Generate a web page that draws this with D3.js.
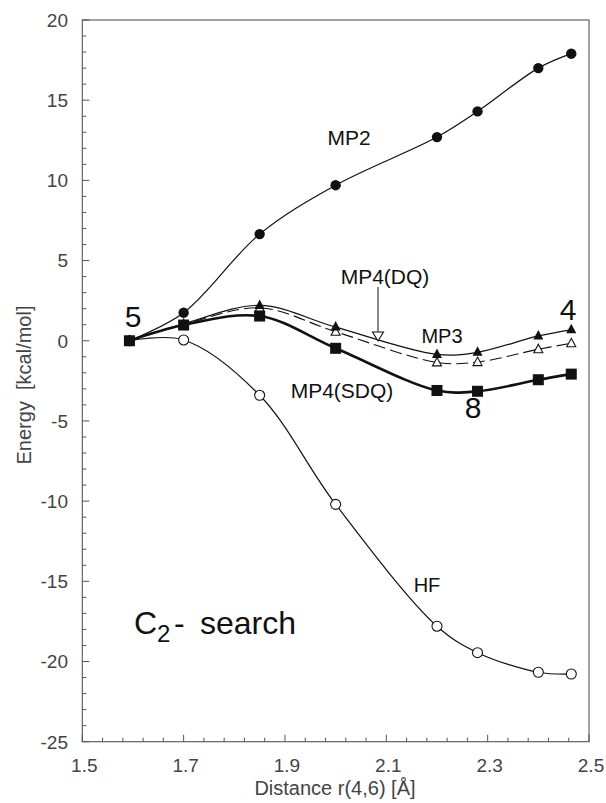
<!DOCTYPE html>
<html><head><meta charset="utf-8">
<script src="https://cdn.jsdelivr.net/npm/d3@7"></script>
<style>body{margin:0;background:#fff}svg{display:block}</style>
</head><body>
<svg id="c" width="606" height="803"></svg>
<script>
const distances = [1.593, 1.70, 1.85, 2.00, 2.20, 2.28, 2.40, 2.465];
const mp2     = [0, 1.75, 6.65, 9.7, 12.7, 14.3, 17.0, 17.9];
const mp3     = [0, 1.05, 2.2, 0.85, -0.85, -0.72, 0.3, 0.68];
const mp4dq   = [0, 1.0, 2.05, 0.56, -1.35, -1.33, -0.53, -0.16];
const mp4sdq  = [0, 0.98, 1.54, -0.47, -3.1, -3.15, -2.43, -2.08];
const hf      = [0, 0.05, -3.4, -10.2, -17.8, -19.45, -20.67, -20.78];
const xTicks = [1.5, 1.7, 1.9, 2.1, 2.3, 2.5];
const yTicks = [-25, -20, -15, -10, -5, 0, 5, 10, 15, 20];

const svg = d3.select("#c");
const x = d3.scaleLinear().domain([1.5, 2.5]).range([82.3, 589]);
const y = d3.scaleLinear().domain([-25, 20]).range([741.7, 20]);
const font = "'Liberation Sans', Arial, sans-serif";
const axisCol = "#555";

// frame
svg.append("rect").attr("x", x(1.5)).attr("y", y(20))
  .attr("width", x(2.5) - x(1.5)).attr("height", y(-25) - y(20))
  .attr("fill", "none").attr("stroke", axisCol).attr("stroke-width", 1.1);

// y axis ticks (inward)
const yMinor = d3.range(-25, 20.01, 1);
svg.append("g").selectAll("line").data(yMinor).join("line")
  .attr("x1", x(1.5)).attr("x2", d => x(1.5) + (d % 5 === 0 ? 7 : 4))
  .attr("y1", d => y(d)).attr("y2", d => y(d))
  .attr("stroke", axisCol).attr("stroke-width", 1);
svg.append("g").selectAll("text").data(yTicks).join("text")
  .attr("x", 68).attr("y", d => y(d)).attr("dy", "0.36em")
  .attr("text-anchor", "end").attr("font-family", font).attr("font-size", 19)
  .attr("fill", "#444").text(d => d);

// x axis ticks (inward)
const xMinor = d3.range(0, 26).map(i => 1.5 + i * 0.04);
svg.append("g").selectAll("line").data(xMinor).join("line")
  .attr("x1", d => x(d)).attr("x2", d => x(d))
  .attr("y1", y(-25)).attr("y2", (d, i) => y(-25) - (i % 5 === 0 ? 7 : 4))
  .attr("stroke", axisCol).attr("stroke-width", 1);
svg.append("g").selectAll("text").data(xTicks).join("text")
  .attr("x", d => x(d) + 2).attr("y", 765).attr("dy", "0.36em")
  .attr("text-anchor", "middle").attr("font-family", font).attr("font-size", 19)
  .attr("fill", "#444").text(d => d.toFixed(1));

// axis titles
svg.append("text").attr("x", 335).attr("y", 795).attr("text-anchor", "middle")
  .attr("font-family", font).attr("font-size", 20).attr("fill", "#444")
  .text("Distance r(4,6) [Å]");
svg.append("text").attr("transform", "translate(31,385) rotate(-90)")
  .attr("text-anchor", "middle").attr("font-family", font).attr("font-size", 20)
  .attr("fill", "#444").attr("xml:space", "preserve").text("Energy  [kcal/mol]");

// lines
const line = d3.line().x(d => x(d[0])).y(d => y(d[1])).curve(d3.curveCatmullRom.alpha(0.5));
const series = [
  {v: hf, w: 1.2, dash: null, m: "ocircle"},
  {v: mp2, w: 1.2, dash: null, m: "circle"},
  {v: mp4dq, w: 1.1, dash: "12,5", m: "otri"},
  {v: mp3, w: 1.2, dash: null, m: "tri"},
  {v: mp4sdq, w: 2.6, dash: null, m: "square"}
];
series.forEach(s => {
  const pts = distances.map((d, i) => [d, s.v[i]]);
  svg.append("path").attr("d", line(pts)).attr("fill", "none")
    .attr("stroke", "#111").attr("stroke-width", s.w)
    .attr("stroke-dasharray", s.dash);
});
// markers
series.forEach(s => {
  const pts = distances.map((d, i) => [d, s.v[i]]);
  const g = svg.append("g");
  pts.forEach((p, i) => {
    const cx = x(p[0]), cy = y(p[1]);
    if (s.m === "circle") g.append("circle").attr("cx", cx).attr("cy", cy).attr("r", 5.2).attr("fill", "#111");
    if (s.m === "ocircle") g.append("circle").attr("cx", cx).attr("cy", cy).attr("r", 5).attr("fill", "#fff").attr("stroke", "#111").attr("stroke-width", 1.1);
    if (s.m === "square") g.append("rect").attr("x", cx - 5.5).attr("y", cy - 5.5).attr("width", 11).attr("height", 11).attr("fill", "#111");
    if (s.m === "tri") g.append("path").attr("d", `M${cx},${cy-6}L${cx+5},${cy+3.5}L${cx-5},${cy+3.5}Z`).attr("fill", "#111");
    if (s.m === "otri") g.append("path").attr("d", `M${cx},${cy-5}L${cx+4.5},${cy+3.5}L${cx-4.5},${cy+3.5}Z`).attr("fill", "#fff").attr("stroke", "#111").attr("stroke-width", 1.1);
  });
});

// annotations
const lab = (tx, ty, t, size) => svg.append("text").attr("x", tx).attr("y", ty)
  .attr("dy", "0.36em").attr("text-anchor", "middle").attr("font-family", font)
  .attr("font-size", size).attr("fill", "#111").text(t);
lab(349, 137, "MP2", 21);
lab(385, 276, "MP4(DQ)", 21);
lab(442, 336, "MP3", 20);
lab(342, 390, "MP4(SDQ)", 21);
lab(427, 585, "HF", 20);
lab(133, 316, "5", 30);
lab(568, 309, "4", 30);
lab(473, 407, "8", 30);

// MP4(DQ) pointer
svg.append("line").attr("x1", 378).attr("x2", 378).attr("y1", 287).attr("y2", 332)
  .attr("stroke", "#111").attr("stroke-width", 1);
svg.append("path").attr("d", "M372.5,332L383.5,332L378,341Z")
  .attr("fill", "#fff").attr("stroke", "#111").attr("stroke-width", 1.1);

// C2- search
const ct = svg.append("text").attr("x", 134).attr("y", 634)
  .attr("font-family", font).attr("font-size", 32).attr("fill", "#111");
ct.append("tspan").text("C");
ct.append("tspan").attr("x", 157).attr("dy", 8).attr("font-size", 24).text("2");
ct.append("tspan").attr("x", 174).attr("dy", -8).text("-");
ct.append("tspan").attr("x", 200).text("search");
</script>
</body></html>
